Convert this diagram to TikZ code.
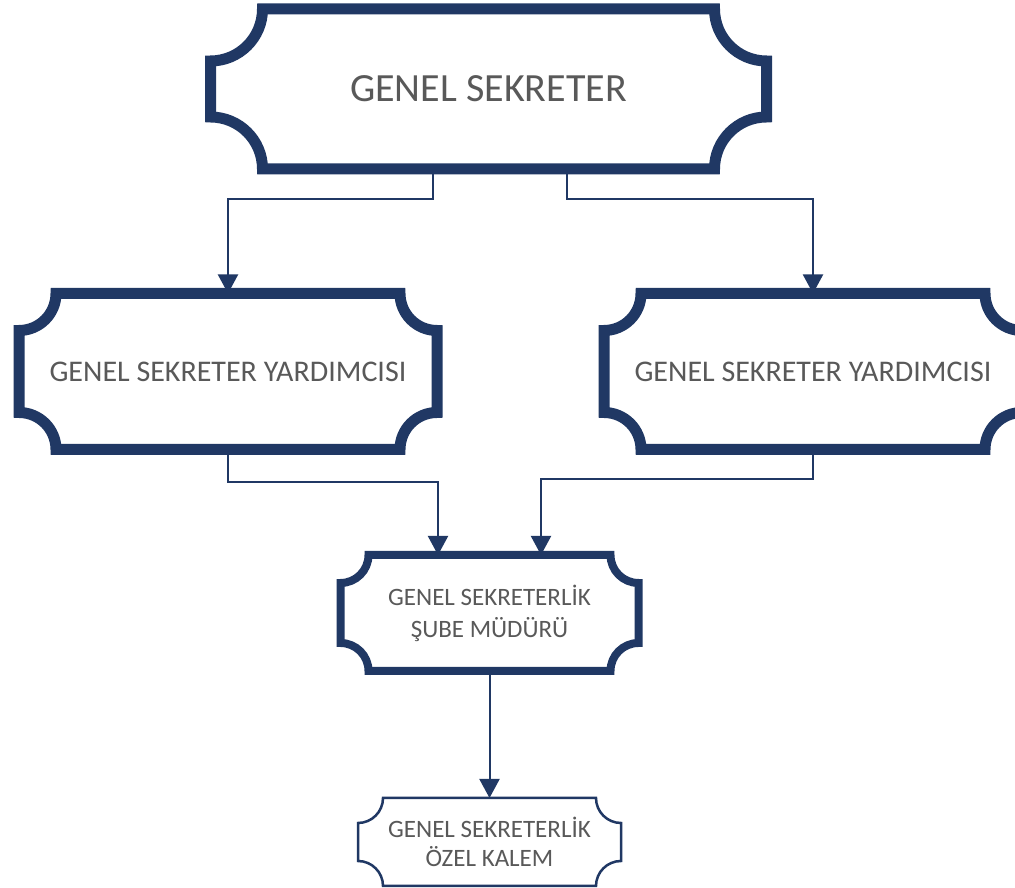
\documentclass[tikz,border=0pt]{standalone}
\usepackage{fontspec}
\setmainfont{Carlito}
\usetikzlibrary{arrows.meta}
\definecolor{navy}{HTML}{203864}
\definecolor{txtgray}{HTML}{595959}
\newcommand\drawplaque[3]{%
  \draw[#3] ([xshift=#2pt]#1.north west) -- ([xshift=-#2pt]#1.north east)
    arc[start angle=180,end angle=270,radius=#2pt] -- ([yshift=#2pt]#1.south east)
    arc[start angle=90,end angle=180,radius=#2pt] -- ([xshift=#2pt]#1.south west)
    arc[start angle=0,end angle=90,radius=#2pt] -- ([yshift=-#2pt]#1.north west)
    arc[start angle=270,end angle=360,radius=#2pt] -- cycle;}
\tikzset{
  box/.style={shape=rectangle, inner sep=0pt, outer sep=0pt, align=center, text=txtgray},
  frame/.style={draw=navy, line join=miter},
  conn/.style={draw=navy, line width=2pt, -{Triangle[width=20pt,length=19pt]}},
}
\begin{document}
\begin{tikzpicture}[x=1pt,y=1pt]
\useasboundingbox (0,0) rectangle (1015,888);
\clip (0,0) rectangle (1015,888);
\fill[white] (0,0) rectangle (1015,888);

\node[box, minimum width=556pt, minimum height=160pt, font=\fontsize{40}{48}\selectfont] (gs) at (488.5,799) {GENEL SEKRETER};
\node[box, minimum width=418pt, minimum height=156pt, font=\fontsize{30}{36}\selectfont] (ly) at (228,516.5) {GENEL SEKRETER YARDIMCISI};
\node[box, minimum width=418pt, minimum height=156pt, font=\fontsize{30}{36}\selectfont] (ry) at (813,516.5) {GENEL SEKRETER YARDIMCISI};
\node[box, minimum width=298pt, minimum height=116pt, font=\fontsize{25}{32}\selectfont] (sm) at (489.5,275) {GENEL SEKRETERLİK\\ŞUBE MÜDÜRÜ};
\node[box, minimum width=263pt, minimum height=88pt, font=\fontsize{25}{29}\selectfont] (ok) at (489.5,46) {GENEL SEKRETERLİK\\ÖZEL KALEM};

\draw[conn] ([xshift=-55.5pt]gs.south) -- ++(0,-30) -| (ly.north);
\draw[conn] ([xshift=78.5pt]gs.south) -- ++(0,-30) -| (ry.north);
\draw[conn] (ly.south) -- ++(0,-32.5) -| ([xshift=-51.5pt]sm.north);
\draw[conn] (ry.south) -- ++(0,-29.5) -| ([xshift=51.5pt]sm.north);
\draw[conn] (sm.south) -- (ok.north);

\drawplaque{gs}{52}{frame, line width=11pt}
\drawplaque{ly}{37}{frame, line width=11pt}
\drawplaque{ry}{37}{frame, line width=11pt}
\drawplaque{sm}{28}{frame, line width=8pt}
\drawplaque{ok}{25}{frame, line width=2.5pt}
\end{tikzpicture}
\end{document}
